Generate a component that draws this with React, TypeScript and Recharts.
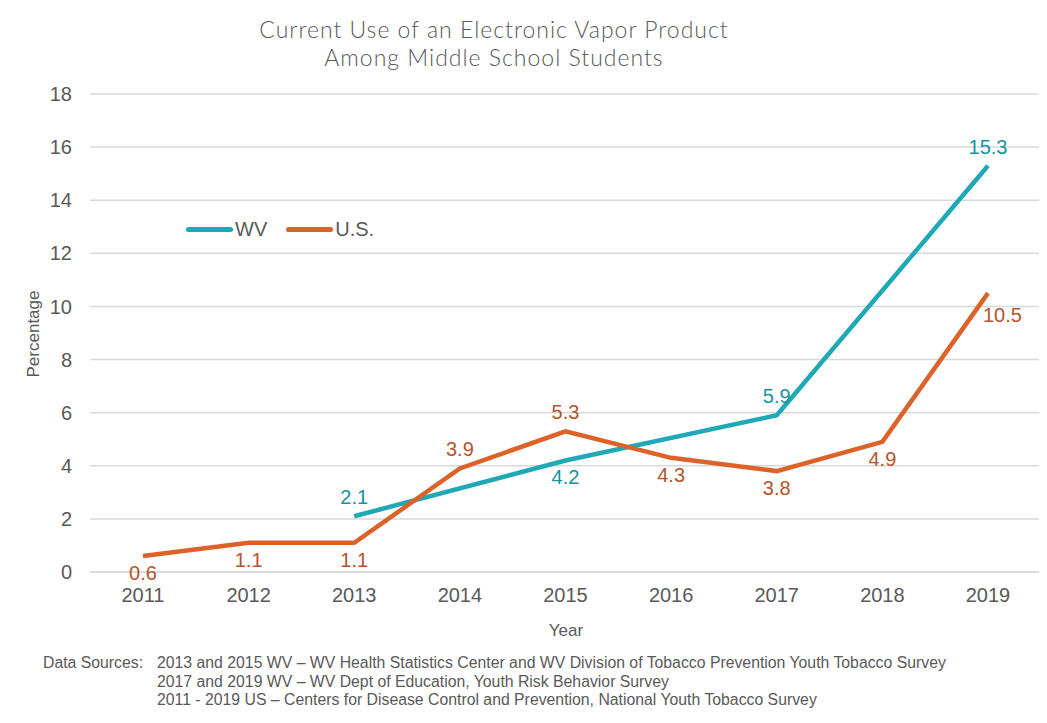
import { LineChart, Line, XAxis, YAxis, CartesianGrid, LabelList } from "recharts";

const years = ["2011", "2012", "2013", "2014", "2015", "2016", "2017", "2018", "2019"];
const wvValues = [null, null, 2.1, null, 4.2, null, 5.9, null, 15.3];
const usValues = [0.6, 1.1, 1.1, 3.9, 5.3, 4.3, 3.8, 4.9, 10.5];
const yTicks = [0, 2, 4, 6, 8, 10, 12, 14, 16, 18];
const sourceLines = [
  "2013 and 2015 WV \u2013 WV Health Statistics Center and WV Division of Tobacco Prevention Youth Tobacco Survey",
  "2017 and 2019 WV \u2013 WV Dept of Education, Youth Risk Behavior Survey",
  "2011 - 2019 US \u2013 Centers for Disease Control and Prevention, National Youth Tobacco Survey",
];

const data = years.map((year, i) => ({ year, wv: wvValues[i], us: usValues[i] }));

// where each value label sits relative to its point
const wvPlace = ["", "", "above", "", "below", "", "above", "", "above"];
const usPlace = ["below", "below", "below", "above", "above", "below", "below", "below", "right"];

const WV_COLOR = "#1FA9B6";
const US_COLOR = "#DC6228";
const WV_TEXT = "#17939E";
const US_TEXT = "#B5542A";
const GRAY = "#595959";
const FONT = "'Liberation Sans', Arial, sans-serif";

function makeLabel(place: string[], color: string) {
  return (props: any) => {
    const { x, y, value, index } = props;
    if (value == null) return null;
    const p = place[index];
    let dx = 0;
    let dy = -12;
    let anchor = "middle";
    if (p === "below") dy = 24;
    if (p === "right") {
      dx = -5;
      dy = 29;
      anchor = "start";
    }
    return (
      <text x={x + dx} y={y + dy} fill={color} fontSize={20} fontFamily={FONT} textAnchor={anchor}>
        {value}
      </text>
    );
  };
}

function LegendBox() {
  const item = (color: string, name: string) => (
    <div style={{ display: "flex", alignItems: "center", marginRight: 19 }}>
      <div style={{ width: 47, height: 5, borderRadius: 3, background: color, marginRight: 2 }} />
      <span style={{ fontSize: 20, color: GRAY, fontFamily: FONT }}>{name}</span>
    </div>
  );
  return (
    <div style={{ display: "flex" }}>
      {item(WV_COLOR, "WV")}
      {item(US_COLOR, "U.S.")}
    </div>
  );
}

export default function App() {
  return (
    <div style={{ position: "relative", width: 1047, height: 723, margin: -8, background: "#fff", overflow: "hidden" }}>
      <div
        style={{
          position: "absolute",
          left: 0,
          width: 988,
          top: 15,
          textAlign: "center",
          fontFamily: "Lato, 'Open Sans', sans-serif",
          fontWeight: 300,
          fontSize: 23,
          lineHeight: "28px",
          color: GRAY,
          letterSpacing: 1.0,
        }}
      >
        Current Use of an Electronic Vapor Product
        <br />
        Among Middle School Students
      </div>
      <div style={{ position: "absolute", left: 0, top: 0 }}>
        <LineChart
          width={1047}
          height={723}
          data={data}
          margin={{ top: 94, right: 6, left: 30, bottom: 121 }}
        >
          <CartesianGrid vertical={false} stroke="#d9d9d9" strokeWidth={1.5} />
          <XAxis
            dataKey="year"
            height={30}
            padding={{ left: 53, right: 53 }}
            axisLine={{ stroke: "#d9d9d9", strokeWidth: 1.5 }}
            tickLine={false}
            tickMargin={10}
            tick={{ fill: GRAY, fontSize: 20, fontFamily: FONT }}
          />
          <YAxis
            width={60}
            domain={[0, 18]}
            ticks={yTicks}
            axisLine={false}
            tickLine={false}
            tickMargin={12}
            tick={{ fill: GRAY, fontSize: 20, fontFamily: FONT }}
          />
          <Line
            type="linear"
            dataKey="wv"
            name="WV"
            stroke={WV_COLOR}
            strokeWidth={4.5}
            dot={false}
            connectNulls
            isAnimationActive={false}
          >
            <LabelList dataKey="wv" content={makeLabel(wvPlace, WV_TEXT)} />
          </Line>
          <Line
            type="linear"
            dataKey="us"
            name="U.S."
            stroke={US_COLOR}
            strokeWidth={4.5}
            dot={false}
            isAnimationActive={false}
          >
            <LabelList dataKey="us" content={makeLabel(usPlace, US_TEXT)} />
          </Line>
        </LineChart>
      </div>
      <div style={{ position: "absolute", left: 186, top: 218 }}>
        <LegendBox />
      </div>
      <div
        style={{
          position: "absolute",
          left: 17,
          top: 334,
          width: 34,
          height: 0,
          display: "flex",
          justifyContent: "center",
          alignItems: "center",
        }}
      >
        <div
          style={{
            transform: "rotate(-90deg)",
            fontSize: 17,
            fontFamily: FONT,
            color: GRAY,
            whiteSpace: "nowrap",
            lineHeight: "20px",
          }}
        >
          Percentage
        </div>
      </div>
      <div
        style={{
          position: "absolute",
          left: 466,
          width: 200,
          top: 621,
          textAlign: "center",
          fontSize: 17,
          fontFamily: FONT,
          color: GRAY,
        }}
      >
        Year
      </div>
      <div
        style={{
          position: "absolute",
          left: 43,
          top: 654,
          fontSize: 15.8,
          lineHeight: "18.5px",
          fontFamily: FONT,
          color: GRAY,
          display: "flex",
        }}
      >
        <div style={{ width: 114 }}>Data Sources:</div>
        <div>
          {sourceLines.map((s) => (
            <div key={s}>{s}</div>
          ))}
        </div>
      </div>
      <div
        style={{
          position: "absolute",
          left: 6,
          top: 6,
          width: 1060,
          height: 730,
          borderTop: "2px solid #d6d6d6",
          borderLeft: "2px solid #d6d6d6",
          pointerEvents: "none",
        }}
      />
    </div>
  );
}
